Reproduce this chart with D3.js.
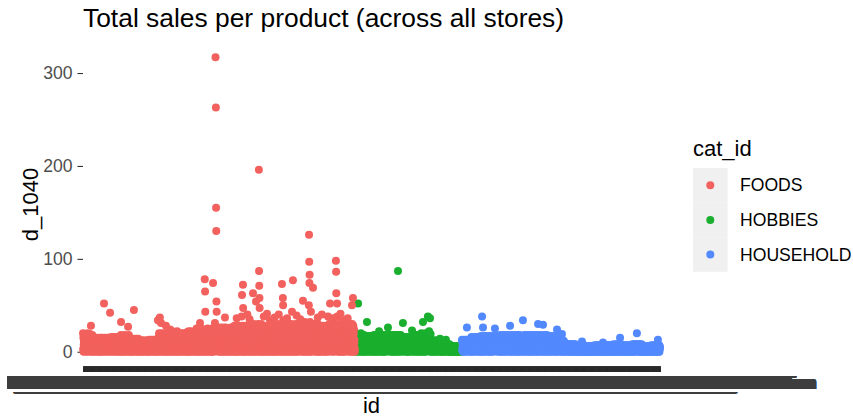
<!DOCTYPE html>
<html>
<head>
<meta charset="utf-8">
<script src="https://cdn.jsdelivr.net/npm/d3@7"></script>
<style>
  body { margin: 0; background: #ffffff; }
  svg { display: block; font-family: "Liberation Sans", Arial, sans-serif; }
</style>
</head>
<body>
<svg id="chart" width="853" height="417"></svg>
<script>
// Categories, departments and how many items each department has
const categories = ['FOODS', 'HOBBIES', 'HOUSEHOLD'];
const catColors = ['#F2615D', '#1AAF2E', '#5389FF'];
const departments = ['FOODS_1', 'FOODS_2', 'FOODS_3', 'HOBBIES_1', 'HOBBIES_2', 'HOUSEHOLD_1', 'HOUSEHOLD_2'];
const deptItems = [216, 398, 823, 416, 149, 532, 515];
const idSuffix = '_CA_1_evaluation';

// d_1040 sales per item, one base-36 character per item, in id order
const foodsSales = `
k3f08b2g5d 1a7i4c09e2 h6b3k81f5c 0a7d2g4j6e 19b3h05c2i
f2a06c3e1b 8d4f09b2e5 7c1f3a08d6 2e9b4f0c17 a3e5d08f2b
3f0c8a1e5b d27f4c09e3 b6a1f2d08c 5e3b9f1a7d 0c4f2e6b18
g1c05e9a3f 2b7g0d4c18 e6a2f3b0g5 9d1c7e4a02 f8b3g6d1c0
i4b0f7d2a9 c1h5e08g3b i6a2d0f4c9 1h7b3e05g2 a8i1d6c0f3
e2a07c4b19 d0e5836ac2 b4e0d17a93 c6e2b058d1 a3e7c04b92
c3906a2b8c 15b07c4a92 6c0b3819a5 c274b0a6c1 3b9052c8a7
d0a4c72b91 5d3806ac2b 7d19c04a6b 3d852c0a17 b4d06938ca
g2k05d9b3i 1f7c0k4a82 e6h1b3j09d 5k2g8c0f4a 1i6d3b0h7e
m3g0c8j1e5 a2l7d0h4b9 f1m6c3k08e 2i5a0g9l3d 7b1j4e0m6c
k1e6a0h3c9 f2j5b08d4k 1g7c3e0i2a 6k9d1f4b0h 3c8j2e5a0g
l4c0h8a2m6 e1j3b09f5k 2m7d0i4c1g 8a3l6e0b9j 1h5m2c7f0k
p2h7c0l4e9 a1n5g0j3d8 m6b2p0f4k1 i7c3o0e5h2 9l1d6p3a0g
n3f0k7b2p5 d1i9a0m4g6 c2o8e0j3l1 h5p0b7f2k4 0n9d3i6a1m
q1g6c0m3i8 b2o5e0k7a4 p9d1h3q0f6 2l8c4n0j5a 1q7e3g0b9o
m4a0q7e2j9 c1p6h0l3f8 b5o2d0k9g1 q3i7a0n4e6 2j8c1q5f0h
s2i7d0n4b9 f1r6k0g3p8 a5s2e0l7c1 q4h9b0o3j6 1s8f2m5d0k
p3e0s8j1m6 b2r5g0k9d4 s7a1n3f0i8 c2q6l0e4h9 1s5b3o0g7j
u1k6e0q3h8 a2t5n0c9j4 s7f1u3l0g6 2p8d4r0i5b 1u9m3e6a0o
r4g0m7c2s9 e1j6p0a3l8 h5s2d0o9f1 n3b7q0k4i6 2s8g1m5c0p
t2h7b0u4l9 d1q6f0n3j8 a5u2k0e7r1 g4o9c0s3m6 1u8i2p5d0l
q3e0u8k1n6 c2s5h0m9f4 u7b1p3j0g8 d2t6o0a4l9 1u5i3r0e7k
u1l6f0r3i8 b2t5o0d9k4 s7h1u3m0e6 2q8g4n0j5c 1u9p3a6f0s
w4i0p7d2u9 f1m6s0b3k8 h5w2g0r9e1 o3c7t0l4j6 2v8a1q5n0w
s2j7c0u4m9 e1p6h0r3g8 a5u2l0d7t1 i4n9b0q3k6 1u8f2o5c0s
p3f0s8i1l6 c2r5e0n9h4 s7a1m3j0d8 g2q6b0k4o9 1s5e3p0i7c
u1m6g0q3j8 a2t5k0e9o4 r7c1u3h0n6 2s8f4l0d5p 1u9i3b6g0t
s4h0n7d2r9 f1k6p0b3m8 g5s2e0q9i1 l3a7o0j4c6 2s8h1n5f0p
t2k7e0u4n9 g1r6i0c3p8 b5u2m0f7s1 j4o9d03`;

const hobbiesSales = `
h2k05c9a3f 1i7b0e4d82 g6j1a3h09c 5k2e8b0f4d 1g6c3a0i7e
h3d0a8f1c6 b2g5e09d4h 1f7c3a0h2b 6e9d1g4b0f 3c8h2a5e0g
i1e6b0g3c8 a2h5d09f4i 1g7c3e0i2a 6f9d1h4b0e 3c8i2a5g0d
g4c0i8a2f6 e1h3b09d5i 2f7d0g4c1e 8a3i6e0b9h 1g5c2d7f0i
i2f7c0h4e9 a1g5d0i3b8 f6c2h0e4i1 d7b3g0a5f2 9i1c6h3e0d
g3d0a7f2c5 b1e9g04d6c 2f8a0e3g1b 5d0c7f2a4g 0e9b3d6g1a
h1e6c0i3f8 b2g5d0a9e4 i7c1h3f0d6 2g8b4i0e5a 1h9d3c6f0i
k4f0i7c2h9 d1j6a0g3e8 b5k2e0h9c1 i3a7j0f4d6 2k8b1g5e0j
c2a7508b3c 1962a0c4b8 3c075a1b92 6c0a4b8c13 5a9c0b2761
8305726148 0736285140 8250763184 0627381504 7183026548
5206314602 5136024051 6304215360 2514063125 0643162050
6031524063 15204`;

const householdSales = `
d2a5c08b31 6d4907ac1b 8d20c35a7b 4d963c1a08 b5d17049ca
g2c06e9a3f 1b7g0d4c82 e6a1f3b0g5 9d2c7e4a01 f8b3g6d1c0
h1d6b0f3c8 a2g5e09d4h 1f7c3a0h2b 6e9d1g4b0f 3c8h2a5e0g
f3c0h8a2e6 d1g3b09c5h 2e7d0f4c1h 8a3g6e0b9d 1h5c2f7a0g
i2e7c0g4d9 a1h5f0i3b8 e6c2g0d4i1 f7b3h0a5e2 9i1c6g3d0f
g1e6c0i3f8 b2h5d0a9e4 i7c1g3f0d6 2h8b4i0e5a 1g9d3c6f0i
h4f0i7c2e9 d1g6a0h3e8 b5i2e0g9c1 i3a7h0f4d6 2i8b1g5e0h
i2d7b0h4f9 c1g6e0i3a8 f5h2d0b7i1 e4g9c0a3h6 1i8d2f5b0g
g3e0i8c1h6 b2f5d0a9g4 i7c1e3h0f8 d2g6b0i4a9 1h5e3c0f7i
h1d6f0g3b8 a2e5c09h4f 1g7b3d0h2e 6c9a1f4d0g 3b8h2e5c0f
d2a7c05b39 1d8a4c06b2 9c3a71b05d 2a8604c13b 7058246193
8305716248 2607381504 8153062748 0726481305 6184027538
7304615270 5162073415 0627314056 2705163047 1603527041
6203514061 3052614025 1640352061 4025163504 2613052640
7150362417 0536214073 6142705316 0724153602 4170635210
6301745206 1473026517 3062714053 7162043517 0634271503
8140627315 0726381504 6183027548 1605283740 3816024573
7205361470 3614072513 0736152406 4170325617 2053714062
8150627384 0736281504 6283017548 2705183640 3816025478
6204315062 3150624013 5062143506 1405263041 6025134062
7140536217 0536214073 6142705316 0724153602 4170635`;

// Items that stand out above the dense band: [item position, sales]
const peakSales = [
  [42, 28], [111, 52], [143, 42], [201, 32], [238, 27], [269, 45], [396, 34], [406, 37],
  [412, 31], [438, 28], [460, 24], [618, 31], [643, 78], [645, 65], [646, 43], [687, 74],
  [697, 31], [700, 317], [702, 263], [703, 155], [704, 130], [705, 54], [706, 43], [750, 37],
  [792, 24], [838, 38], [840, 61], [845, 72], [846, 47], [898, 63], [914, 54], [929, 196],
  [930, 87], [931, 71], [932, 58], [933, 47], [988, 34], [1051, 73], [1056, 58], [1057, 50],
  [1058, 34], [1104, 43], [1109, 77], [1162, 55], [1193, 50], [1194, 126], [1195, 97], [1196, 74],
  [1197, 83], [1204, 43], [1215, 69], [1294, 38], [1305, 52], [1336, 98], [1337, 86], [1338, 63],
  [1342, 52], [1343, 38], [1373, 34], [1421, 50], [1426, 58],
  [812, 36], [868, 40], [880, 35], [955, 38], [972, 41], [1012, 37], [1034, 40], [1078, 36],
  [1128, 39], [1148, 35], [1240, 37], [1262, 40], [1322, 36], [1360, 41], [1398, 36],
  [1453, 52], [1500, 32], [1564, 22], [1611, 26], [1664, 87], [1690, 31], [1738, 23], [1796, 32],
  [1822, 38], [1828, 22], [1833, 36], [1886, 14], [1917, 13],
  [2028, 26], [2108, 38], [2113, 26], [2176, 25], [2256, 28], [2324, 34], [2404, 30], [2430, 29],
  [2504, 24], [2530, 19], [2636, 11], [2747, 10], [2837, 15], [2926, 20], [3037, 13]
];

const yTicks = [0, 100, 200, 300];

// Build ids (sorted like the factor levels) and one record per item
const ids = [];
const itemCat = [];
departments.forEach((dep, k) => {
    const cat = dep.replace(/_\d$/, '');
    for (let n = 1; n <= deptItems[k]; n++) {
        ids.push(dep + '_' + String(n).padStart(3, '0') + idSuffix);
        itemCat.push(cat);
    }
});

const sales = [foodsSales, hobbiesSales, householdSales]
    .map(s => s.replace(/\s/g, ''))
    .join('')
    .split('')
    .map(c => parseInt(c, 36));
peakSales.forEach(([i, v]) => { sales[i] = v; });

const data = ids.map((id, i) => ({ id: id, cat: itemCat[i], value: sales[i] }));

// Rows are drawn in the order of the original file: HOBBIES, HOUSEHOLD, FOODS
const drawOrder = ['HOBBIES', 'HOUSEHOLD', 'FOODS'];
const drawData = drawOrder.flatMap(c => data.filter(d => d.cat === c));

const svg = d3.select('#chart');

// Panel box
const panel = { left: 83, right: 660, top: 42.5, bottom: 366.5 };
const pointR = 4;

// Scales (5% expansion on y like ggplot)
const yMax = d3.max(data, d => d.value);
const pad = yMax * 0.05;
const x = d3.scalePoint().domain(ids).range([panel.left, panel.right]);
const y = d3.scaleLinear().domain([-pad, yMax + pad]).range([panel.bottom, panel.top]);
const color = d3.scaleOrdinal().domain(categories).range(catColors);

// Clip for the crowded x labels
svg.append('defs').append('clipPath')
    .attr('id', 'labelClip')
    .append('rect')
    .attr('x', 7).attr('y', -10)
    .attr('width', 846).attr('height', 60);

// X axis: one tick and one label per item
const xAxis = svg.append('g')
    .attr('transform', `translate(0,${panel.bottom})`)
    .attr('clip-path', 'url(#labelClip)')
    .call(d3.axisBottom(x).tickSize(5.5).tickPadding(4.4));
xAxis.select('.domain').remove();
xAxis.selectAll('line').attr('stroke', '#2b2b2b').attr('stroke-width', 1);
xAxis.selectAll('text')
    .attr('fill', '#3d3d3d')
    .style('font-size', '17.6px')
    .style('font-family', '"Liberation Sans", Arial, sans-serif');

// Y axis
const yAxis = svg.append('g')
    .attr('transform', `translate(${panel.left},0)`)
    .call(d3.axisLeft(y).tickValues(yTicks).tickSize(5.5).tickPadding(5));
yAxis.select('.domain').remove();
yAxis.selectAll('line').attr('stroke', '#333333').attr('stroke-width', 1.1);
yAxis.selectAll('text')
    .attr('fill', '#4d4d4d')
    .style('font-size', '17.6px')
    .style('font-family', '"Liberation Sans", Arial, sans-serif');

// Points
svg.append('g')
    .selectAll('circle')
    .data(drawData)
    .join('circle')
    .attr('cx', d => x(d.id))
    .attr('cy', d => y(d.value))
    .attr('r', pointR)
    .attr('fill', d => color(d.cat));

// Title
svg.append('text')
    .attr('x', panel.left)
    .attr('y', 27)
    .style('font-size', '26.4px')
    .attr('fill', '#000000')
    .text('Total sales per product (across all stores)');

// Axis titles
svg.append('text')
    .attr('x', (panel.left + panel.right) / 2)
    .attr('y', 413)
    .attr('text-anchor', 'middle')
    .style('font-size', '22px')
    .text('id');

svg.append('text')
    .attr('transform', `translate(38,${(panel.top + panel.bottom) / 2}) rotate(-90)`)
    .attr('text-anchor', 'middle')
    .style('font-size', '22px')
    .text('d_1040');

// Legend
const legend = svg.append('g').attr('transform', 'translate(693,0)');
legend.append('text')
    .attr('x', 0)
    .attr('y', 156)
    .style('font-size', '22px')
    .text('cat_id');

const keys = legend.selectAll('g.key')
    .data(categories)
    .join('g')
    .attr('class', 'key')
    .attr('transform', (d, i) => `translate(0,${168 + i * 34.6})`);

keys.append('rect')
    .attr('width', 34.6)
    .attr('height', 34.6)
    .attr('fill', '#f0f0f0');

keys.append('circle')
    .attr('cx', 17.3)
    .attr('cy', 17.3)
    .attr('r', pointR)
    .attr('fill', d => color(d));

keys.append('text')
    .attr('x', 47)
    .attr('y', 17.3)
    .attr('dy', '0.35em')
    .style('font-size', '17.6px')
    .attr('fill', '#000000')
    .text(d => d);
</script>
</body>
</html>
